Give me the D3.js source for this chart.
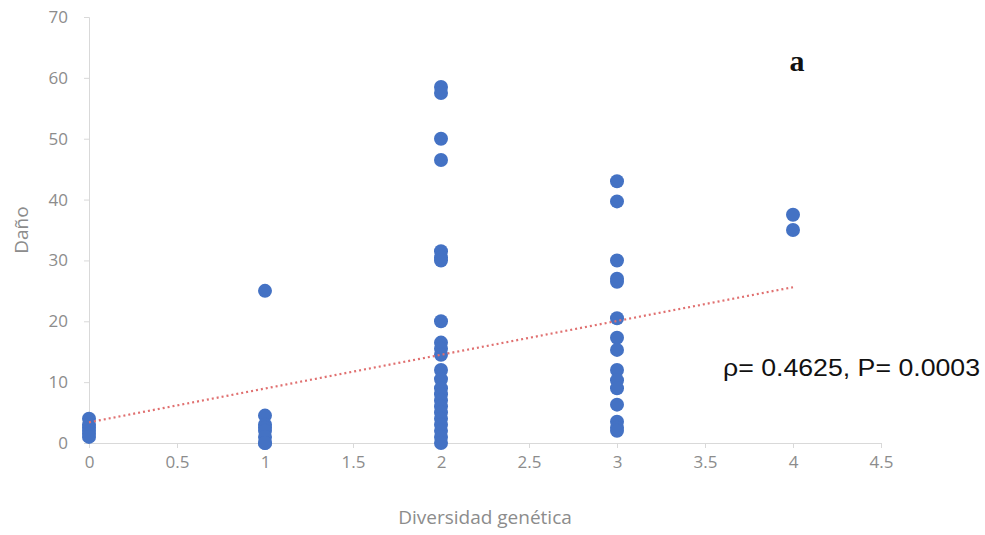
<!DOCTYPE html>
<html>
<head>
<meta charset="utf-8">
<script src="https://cdn.jsdelivr.net/npm/d3@7"></script>
<style>
  body { margin: 0; background: #fff; }
  svg { display: block; }
</style>
</head>
<body>
<div id="chart"></div>
<script>
  // valores
  const xGroups = [0, 1, 2, 3, 4];
  const damage0 = [4, 3, 2.5, 2, 1.5, 1];
  const damage1 = [25, 4.5, 3, 2.5, 2, 1, 0, 0];
  const damage2 = [58.5, 57.5, 50, 46.5, 31.5, 30.5, 30, 20, 16.5, 15.5, 14.5,
    12, 10.5, 9, 8, 7, 6, 5, 4, 3, 2, 1, 0];
  const damage3 = [43, 39.7, 30, 27, 26.5, 20.5, 17.3, 15.3, 12, 10.3, 9, 6.3, 3.5, 2.5, 2];
  const damage4 = [37.5, 35];
  const trendX = [0, 4];
  const trendY = [3.4, 25.6];
  const xTicks = [0, 0.5, 1, 1.5, 2, 2.5, 3, 3.5, 4, 4.5];
  const yTicks = [0, 10, 20, 30, 40, 50, 60, 70];

  const WIDTH = 985;
  const HEIGHT = 535;
  const margin = { left: 89, top: 17, right: 104, bottom: 92 };

  const points = [damage0, damage1, damage2, damage3, damage4]
    .flatMap((vals, i) => vals.map((v) => ({ x: xGroups[i], y: v })));

  const x = d3.scaleLinear().domain([0, 4.5]).range([margin.left, WIDTH - margin.right]);
  const y = d3.scaleLinear().domain([0, 70]).range([HEIGHT - margin.bottom, margin.top]);

  const svg = d3
    .select('#chart')
    .append('svg')
    .attr('width', WIDTH)
    .attr('height', HEIGHT);

  const tickFont = "'Open Sans', sans-serif";
  const gray = '#8c8c8c';
  const lineColor = '#d9d9d9';

  // eje Y
  const yAxis = svg
    .append('g')
    .attr('transform', 'translate(' + margin.left + ',0)')
    .call(d3.axisLeft(y).tickValues(yTicks).tickSize(5).tickPadding(16));
  yAxis.select('.domain').attr('stroke', lineColor);
  yAxis.selectAll('.tick line').attr('stroke', lineColor);
  yAxis
    .selectAll('.tick text')
    .attr('fill', gray)
    .attr('font-family', tickFont)
    .attr('font-size', 17);

  // eje X
  const xAxis = svg
    .append('g')
    .attr('transform', 'translate(0,' + y(0) + ')')
    .call(
      d3.axisBottom(x)
        .tickValues(xTicks)
        .tickFormat((d) => String(d))
        .tickSize(5)
        .tickPadding(8)
        .tickSizeOuter(0)
    );
  xAxis.select('.domain').attr('stroke', lineColor);
  xAxis.selectAll('.tick line').attr('stroke', lineColor);
  xAxis
    .selectAll('.tick text')
    .attr('fill', gray)
    .attr('font-family', tickFont)
    .attr('font-size', 17);

  // puntos
  svg
    .append('g')
    .selectAll('circle')
    .data(points)
    .enter()
    .append('circle')
    .attr('cx', (d) => x(d.x))
    .attr('cy', (d) => y(d.y))
    .attr('r', 7)
    .attr('fill', '#4472c4');

  // línea de tendencia
  svg
    .append('line')
    .attr('x1', x(trendX[0]))
    .attr('y1', y(trendY[0]))
    .attr('x2', x(trendX[1]))
    .attr('y2', y(trendY[1]))
    .attr('stroke', '#e07070')
    .attr('stroke-width', 2.2)
    .attr('stroke-dasharray', '2,3');

  // títulos de ejes
  svg
    .append('text')
    .attr('x', (x(0) + x(4.5)) / 2)
    .attr('y', 524)
    .attr('text-anchor', 'middle')
    .attr('fill', gray)
    .attr('font-family', tickFont)
    .attr('font-size', 19)
    .text('Diversidad genética');

  svg
    .append('text')
    .attr('transform', 'translate(' + 28 + ',' + y(35) + ') rotate(-90)')
    .attr('text-anchor', 'middle')
    .attr('fill', gray)
    .attr('font-family', tickFont)
    .attr('font-size', 19)
    .text('Daño');

  // anotaciones
  svg
    .append('text')
    .attr('x', 797)
    .attr('y', 71)
    .attr('text-anchor', 'middle')
    .attr('font-family', "'Liberation Serif', serif")
    .attr('font-weight', 'bold')
    .attr('font-size', 30)
    .attr('fill', '#111')
    .text('a');

  svg
    .append('text')
    .attr('x', 723)
    .attr('y', 376)
    .attr('font-family', "'Liberation Sans', Arial, sans-serif")
    .attr('font-size', 24)
    .attr('textLength', 257)
    .attr('lengthAdjust', 'spacingAndGlyphs')
    .attr('fill', '#111')
    .text('ρ= 0.4625, P= 0.0003');
</script>
</body>
</html>
